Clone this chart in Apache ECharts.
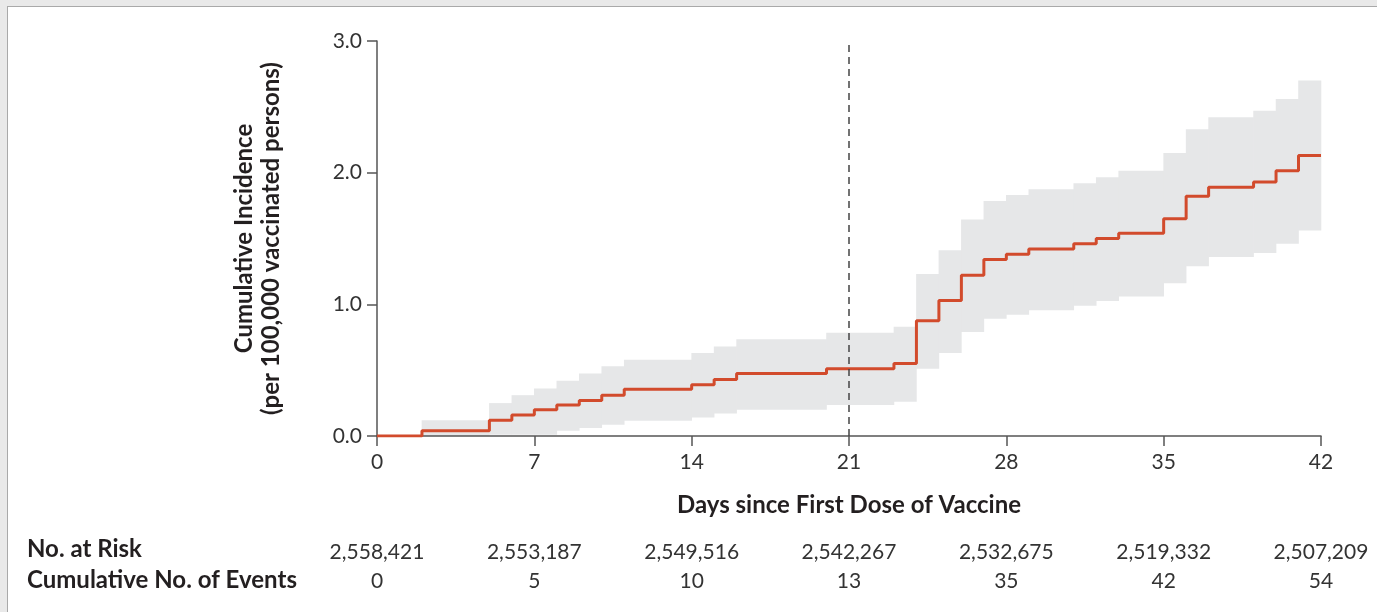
<!DOCTYPE html>
<html><head><meta charset="utf-8">
<script src="https://cdn.jsdelivr.net/npm/echarts@6/dist/echarts.min.js"></script>
<style>
html,body{margin:0;padding:0;background:#e9e9e9;width:1377px;height:612px;overflow:hidden}
#frame{position:absolute;left:7px;top:6px;width:1370px;height:606px;background:#fff;border-left:1px solid #a9a9a9;border-top:1px solid #a9a9a9;box-sizing:border-box}
#chart{position:absolute;left:0;top:0;width:1377px;height:612px}
</style></head><body>
<div id="frame"></div><div id="chart"></div>
<script>
// Kaplan-Meier style step data (value holds from days[i] until days[i+1])
const days     = [0, 2, 5, 6, 7, 8, 9, 10, 11, 14, 15, 16, 20, 23, 24, 25, 26, 27, 28, 29, 31, 32, 33, 35, 36, 37, 39, 40, 41, 42];
const estimate = [0, 0.04, 0.12, 0.16, 0.20, 0.235, 0.27, 0.31, 0.355, 0.39, 0.43, 0.475, 0.51, 0.55, 0.875, 1.03, 1.22, 1.34, 1.38, 1.42, 1.46, 1.50, 1.54, 1.65, 1.82, 1.89, 1.93, 2.015, 2.13, 2.13];
const upperCI  = [0, 0.12, 0.25, 0.31, 0.36, 0.42, 0.475, 0.53, 0.58, 0.63, 0.68, 0.735, 0.785, 0.83, 1.23, 1.41, 1.645, 1.785, 1.83, 1.875, 1.92, 1.965, 2.015, 2.15, 2.33, 2.42, 2.47, 2.56, 2.70, 2.70];
const lowerCI  = [0, 0, 0.01, 0.01, 0.01, 0.04, 0.06, 0.085, 0.115, 0.14, 0.17, 0.20, 0.235, 0.26, 0.51, 0.63, 0.79, 0.89, 0.92, 0.955, 0.99, 1.025, 1.06, 1.16, 1.29, 1.36, 1.39, 1.46, 1.56, 1.56];

const tickDays  = [0, 7, 14, 21, 28, 35, 42];
const atRisk    = ['2,558,421', '2,553,187', '2,549,516', '2,542,267', '2,532,675', '2,519,332', '2,507,209'];
const cumEvents = ['0', '5', '10', '13', '35', '42', '54'];
const secondDoseDay = 21;

const FONT = 'Lato, "Open Sans", sans-serif';
const chart = echarts.init(document.getElementById('chart'), null, {renderer: 'canvas'});

function tableAxis(values, offset) {
  return {
    type: 'value', position: 'bottom', offset: offset,
    min: 0, max: 42, interval: 7,
    axisLine: {show: false}, axisTick: {show: false}, splitLine: {show: false},
    axisLabel: {
      margin: 16, fontFamily: FONT, fontSize: 21, color: '#333',
      formatter: v => { const i = tickDays.indexOf(v); return i >= 0 ? values[i] : ''; }
    }
  };
}

// confidence band: one rectangle per step interval, positioned through the axes
function renderBand(params, api) {
  const i = params.dataIndex;
  if (i >= days.length - 1) return null;
  const p0 = api.coord([api.value(0), api.value(2)]);
  const p1 = api.coord([days[i + 1], api.value(1)]);
  return {
    type: 'rect',
    shape: {x: p0[0] - 0.3, y: p0[1], width: p1[0] - p0[0] + 0.6, height: p1[1] - p0[1]},
    style: {fill: '#e6e7e8'}
  };
}

chart.setOption({
  animation: false,
  backgroundColor: 'transparent',
  grid: {left: 377, right: 56, top: 41, bottom: 176},
  xAxis: [
    {
      type: 'value', min: 0, max: 42, interval: 7, z: 2,
      name: 'Days since First Dose of Vaccine', nameLocation: 'middle', nameGap: 57,
      nameTextStyle: {fontFamily: FONT, fontWeight: 'bold', fontSize: 24, color: '#231f20'},
      axisLine: {lineStyle: {color: '#555', width: 1.5}},
      axisTick: {length: 10, lineStyle: {color: '#555', width: 1.5}},
      axisLabel: {margin: 16, fontFamily: FONT, fontSize: 21, color: '#333'},
      splitLine: {show: false}
    },
    tableAxis(atRisk, 90),
    tableAxis(cumEvents, 119)
  ],
  yAxis: {
    type: 'value', min: 0, max: 3, interval: 1, z: 2,
    name: 'Cumulative Incidence\n(per 100,000 vaccinated persons)',
    nameLocation: 'middle', nameGap: 92,
    nameTextStyle: {fontFamily: FONT, fontWeight: 'bold', fontSize: 24, color: '#231f20', lineHeight: 27, align: 'center'},
    axisLine: {show: true, lineStyle: {color: '#555', width: 1.5}},
    axisTick: {show: true, length: 10, lineStyle: {color: '#555', width: 1.5}},
    axisLabel: {margin: 15, fontFamily: FONT, fontSize: 21, color: '#333', formatter: v => v.toFixed(1)},
    splitLine: {show: false}
  },
  graphic: [
    {type: 'text', left: 27, top: 537, style: {text: 'No. at Risk', fontFamily: FONT, fontWeight: 'bold', fontSize: 24, fill: '#231f20'}},
    {type: 'text', left: 27, top: 568, style: {text: 'Cumulative No. of Events', fontFamily: FONT, fontWeight: 'bold', fontSize: 24, fill: '#231f20'}}
  ],
  series: [
    {
      name: 'band', type: 'custom', z: 1, silent: true,
      renderItem: renderBand,
      encode: {x: 0, y: [1, 2]},
      data: days.map((d, i) => [d, lowerCI[i], upperCI[i]])
    },
    {
      name: 'estimate', type: 'line', step: 'end', z: 3,
      symbol: 'none', silent: true,
      lineStyle: {color: '#d24b2c', width: 3},
      data: days.map((d, i) => [d, estimate[i]]),
      markLine: {
        silent: true, symbol: ['none', 'none'], label: {show: false},
        lineStyle: {type: [7, 5], color: '#444', width: 1.5},
        data: [{xAxis: secondDoseDay}]
      }
    }
  ]
});
</script>
</body></html>
